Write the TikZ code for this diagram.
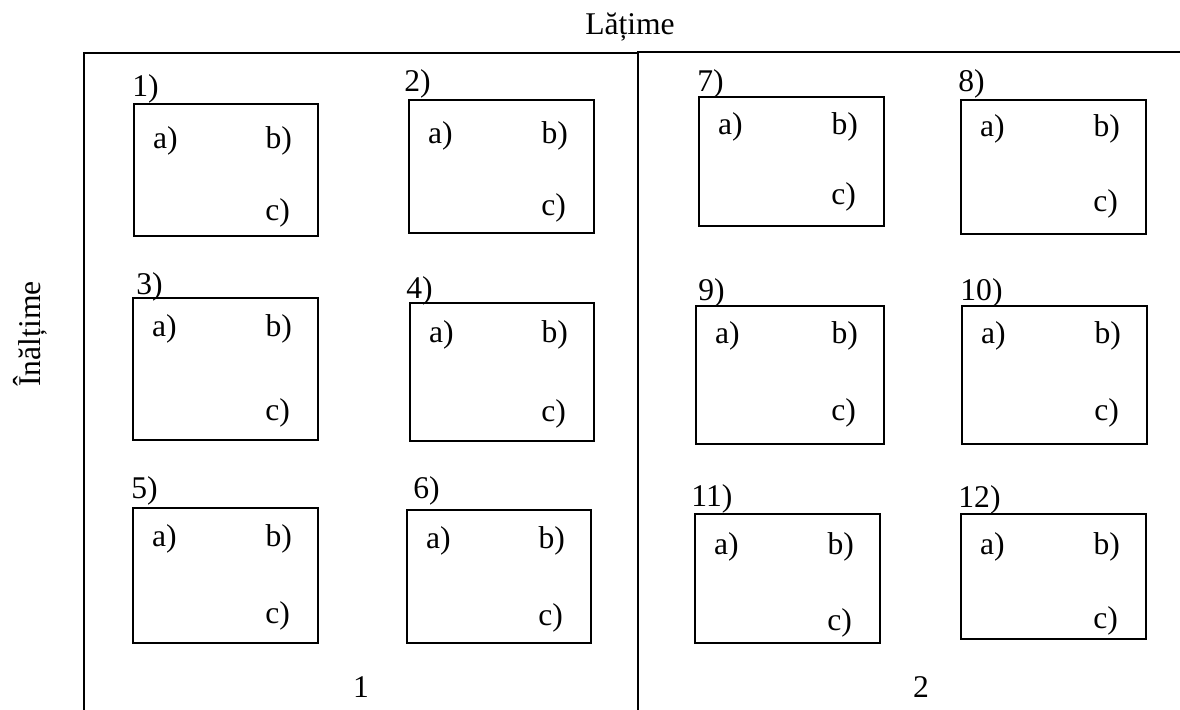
\documentclass[tikz,border=0pt]{standalone}
\usepackage{fontspec}
\setmainfont{Liberation Serif}

\begin{document}
\begin{tikzpicture}[x=0.5pt,y=-0.5pt,
    font=\fontsize{15.8}{18}\selectfont,
    panel/.style={line width=1.1pt},
    cell/.style={draw,line width=0.7pt,inner sep=0pt},
    tag/.style={inner sep=0pt,anchor=base west},
    item/.style={inner sep=0pt}]
  \useasboundingbox (0,0) rectangle (1180,709);
  % the two halves
  \coordinate (p1) at (84,53);
  \coordinate (p2) at (638,52);
  \draw[panel] (84,720) -- (p1) -- (638,53);
  \draw[panel] (638,720) -- (p2) -- (1190,52);
  \node[anchor=base] (latime) at (630,34) {Lățime};
  \node[rotate=90] (inaltime) at (30,334) {Înălțime};
  \node (half1) at (361,687) {1};
  \node (half2) at (921,687) {2};
  % cells: number/left/top/right/bottom/tag x/tag y/a-b row/c row
  \foreach \n/\l/\t/\r/\b/\lx/\ly/\ay/\cy in {
      1/134/104/318/236/132/96/38/24, 2/409/100/594/233/404/91/37/26,
      3/133/298/318/440/136/294/32/28, 4/410/303/594/441/406/298/33/28,
      5/133/508/318/643/131/498/32/28, 6/407/510/591/643/413/498/32/26,
      7/699/97/884/226/697/91/31/30, 8/961/100/1146/234/958/91/30/31,
      9/696/306/884/444/698/300/31/32, 10/962/306/1147/444/960/300/31/32,
      11/695/514/880/643/691/506/34/21, 12/961/514/1146/639/958/507/34/19}
  {
    \node[cell,minimum width={(\r-\l)*0.5pt},minimum height={(\b-\t)*0.5pt}]
      (box\n) at ({(\l+\r)/2},{(\t+\b)/2}) {};
    \node[tag] (tag\n) at (\lx,\ly) {\n)};
    \node[item] (a\n) at ([shift={(32,\ay)}]box\n.north west) {a)};
    \node[item] (b\n) at ([shift={(-40,\ay)}]box\n.north east) {b)};
    \node[item] (c\n) at ([shift={(-41,-\cy)}]box\n.south east) {c)};
  }
\end{tikzpicture}
\end{document}
